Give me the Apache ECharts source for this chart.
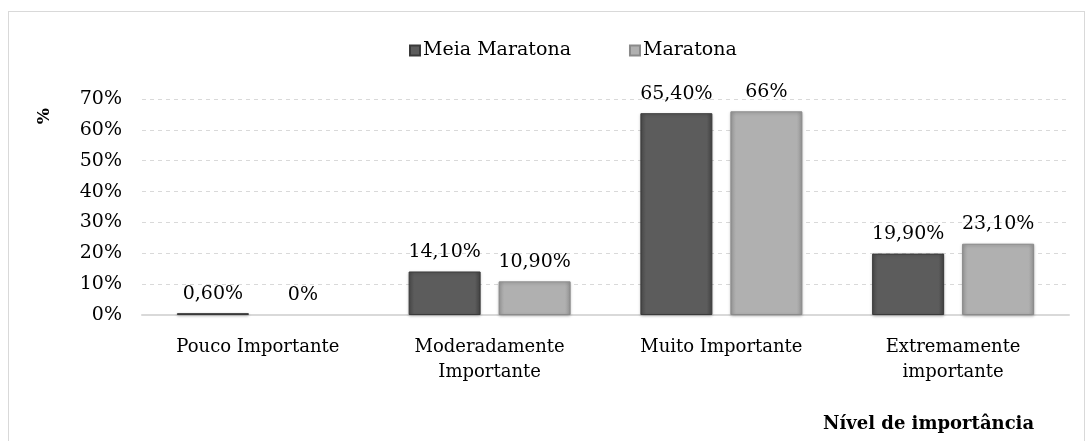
<!DOCTYPE html>
<html>
<head>
<meta charset="utf-8">
<script src="https://cdn.jsdelivr.net/npm/echarts@6/dist/echarts.min.js"></script>
<style>
  html, body { margin: 0; padding: 0; background: #fff; }
  #frame { position: absolute; left: 8px; top: 11px; width: 1077px; height: 440px; border: 1px solid #d9d9d9; box-sizing: border-box; }
  #chart { position: absolute; left: 0; top: 0; width: 1089px; height: 441px; }
</style>
</head>
<body>
<div id="frame"></div>
<div id="chart"></div>
<script>
// dados
const categorias = ["Pouco Importante", "Moderadamente\nImportante", "Muito Importante", "Extremamente\nimportante"];
const meiaMaratona = [0.6, 14.1, 65.4, 19.9];
const maratona = [0, 10.9, 66, 23.1];
const yTicks = [0, 10, 20, 30, 40, 50, 60, 70];

const fonte = "DejaVu Serif";

function rotulo(p) {
  const v = p.value;
  if (Number.isInteger(v)) return v + "%";
  return v.toFixed(2).replace(".", ",") + "%";
}

// barras de valor zero sem contorno
function semZero(arr) {
  return arr.map(v => v === 0 ? { value: v, itemStyle: { borderWidth: 0, shadowBlur: 0 } } : v);
}

const chart = echarts.init(document.getElementById("chart"));
chart.setOption({
  animation: false,
  textStyle: { fontFamily: fonte, color: "#000" },
  legend: {
    left: 404,
    top: 36,
    itemWidth: 10,
    itemHeight: 10,
    itemGap: 58,
    icon: "rect",
    textStyle: { fontFamily: fonte, fontSize: 19, color: "#000", padding: [0, 0, 0, -2] },
    data: ["Meia Maratona", "Maratona"]
  },
  grid: { left: 142, right: 20, top: 99, bottom: 126 },
  xAxis: {
    type: "category",
    data: categorias,
    axisTick: { show: false },
    axisLine: { lineStyle: { color: "#d9d9d9", width: 2 } },
    axisLabel: { fontFamily: fonte, fontSize: 18, color: "#000", margin: 20, lineHeight: 25 }
  },
  yAxis: {
    type: "value",
    min: 0,
    max: 70,
    interval: 10,
    axisLabel: {
      fontFamily: fonte, fontSize: 19, color: "#000", margin: 20,
      formatter: v => yTicks.includes(v) ? v + "%" : ""
    },
    splitLine: { lineStyle: { color: "#d9d9d9", type: [4, 4] } },
    axisLine: { show: false },
    axisTick: { show: false }
  },
  series: [
    {
      name: "Meia Maratona",
      type: "bar",
      data: semZero(meiaMaratona),
      barWidth: 72,
      barGap: "25%",
      itemStyle: {
        color: new echarts.graphic.LinearGradient(0, 0, 1, 0, [
          { offset: 0, color: "#4a4a4a" },
          { offset: 0.08, color: "#5c5c5c" },
          { offset: 0.92, color: "#5c5c5c" },
          { offset: 1, color: "#444" }
        ]),
        borderColor: "#3a3a3a",
        borderWidth: 1,
        shadowColor: "rgba(0,0,0,0.25)",
        shadowBlur: 3,
        shadowOffsetY: 1
      },
      label: { show: true, position: "top", distance: 10, fontFamily: fonte, fontSize: 19, color: "#000", formatter: rotulo }
    },
    {
      name: "Maratona",
      type: "bar",
      data: semZero(maratona),
      barWidth: 72,
      itemStyle: {
        color: new echarts.graphic.LinearGradient(0, 0, 1, 0, [
          { offset: 0, color: "#9a9a9a" },
          { offset: 0.08, color: "#b0b0b0" },
          { offset: 0.92, color: "#b0b0b0" },
          { offset: 1, color: "#999" }
        ]),
        borderColor: "#8a8a8a",
        borderWidth: 1,
        shadowColor: "rgba(0,0,0,0.25)",
        shadowBlur: 3,
        shadowOffsetY: 1
      },
      label: { show: true, position: "top", distance: 10, fontFamily: fonte, fontSize: 19, color: "#000", formatter: rotulo }
    }
  ],
  graphic: [
    {
      type: "text",
      left: 36,
      top: 108,
      rotation: Math.PI / 2,
      style: { text: "%", font: "bold 17px 'DejaVu Serif'", fill: "#000" }
    },
    {
      type: "text",
      left: 823,
      top: 415,
      style: { text: "Nível de importância", font: "bold 18px 'DejaVu Serif'", fill: "#000" }
    }
  ]
});
</script>
</body>
</html>
